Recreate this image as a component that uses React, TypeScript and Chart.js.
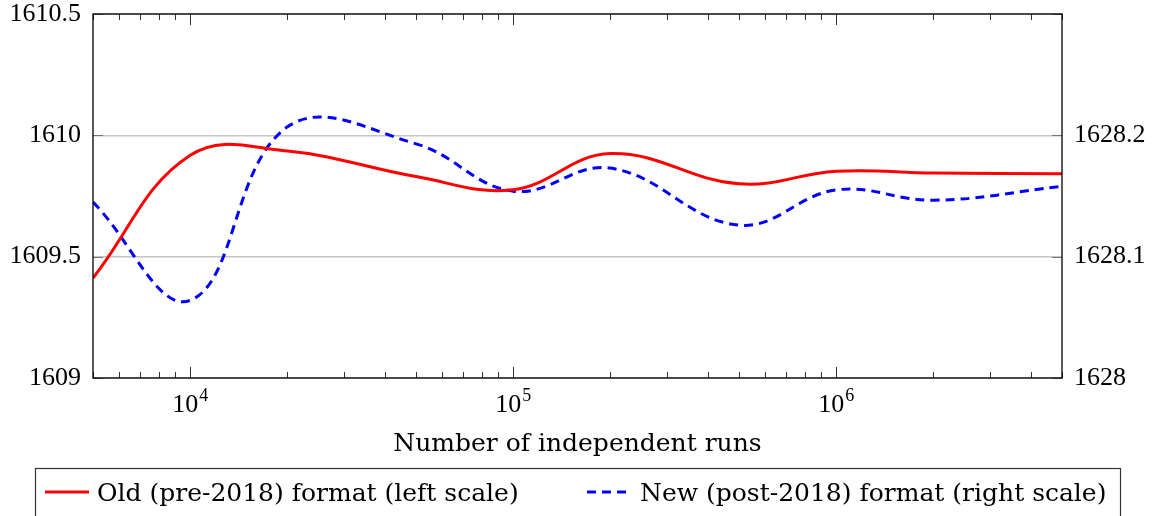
import React, { useEffect, useRef } from "react";
import { Chart, registerables } from "chart.js";

Chart.register(...registerables);

// ---- data ----
const runs: number[] = [5000, 10000, 20000, 50000, 100000, 200000, 500000, 1000000, 2000000, 5000000];
const oldFormat: number[] = [1609.412, 1609.918, 1609.935, 1609.83, 1609.776, 1609.925, 1609.8, 1609.852, 1609.845, 1609.842];
const newFormat: number[] = [1628.145, 1628.064, 1628.207, 1628.193, 1628.154, 1628.173, 1628.126, 1628.155, 1628.1465, 1628.158];
const xMajorTicks: number[] = [10000, 100000, 1000000];
const xMajorExponents: string[] = ["4", "5", "6"];
const leftTicks: number[] = [1609, 1609.5, 1610, 1610.5];
const rightTicks: number[] = [1628, 1628.1, 1628.2];
const oldLabel = "Old (pre-2018) format (left scale)";
const newLabel = "New (post-2018) format (right scale)";
const xTitle = "Number of independent runs";

const W = 1155;
const H = 516;
const NUM_FONT = '"Liberation Serif", serif';
const TXT_FONT = '"DejaVu Serif", serif';

const overlay = {
  id: "overlay",
  afterDraw(chart: any) {
    const ctx = chart.ctx as CanvasRenderingContext2D;
    const a = chart.chartArea;
    const xs = chart.scales.x;
    const yl = chart.scales.yL;
    ctx.save();

    // x ticks (inside, bottom and top)
    ctx.strokeStyle = "#333";
    ctx.lineWidth = 1;
    for (let d = 3; d <= 6; d++) {
      for (let k = 1; k <= 9; k++) {
        const v = k * Math.pow(10, d);
        if (v < xs.min || v > xs.max) continue;
        const px = Math.round(xs.getPixelForValue(v)) + 0.5;
        const len = k === 1 ? 11 : 6;
        ctx.beginPath();
        ctx.moveTo(px, a.bottom);
        ctx.lineTo(px, a.bottom - len);
        ctx.moveTo(px, a.top);
        ctx.lineTo(px, a.top + len);
        ctx.stroke();
      }
    }
    // y ticks (inside, left and right)
    ctx.strokeStyle = "#777";
    leftTicks.forEach((v) => {
      const py = Math.round(yl.getPixelForValue(v)) + 0.5;
      ctx.beginPath();
      ctx.moveTo(a.left, py);
      ctx.lineTo(a.left + 10, py);
      ctx.moveTo(a.right, py);
      ctx.lineTo(a.right - 10, py);
      ctx.stroke();
    });

    // frame
    ctx.strokeStyle = "#000";
    ctx.lineWidth = 1.3;
    ctx.strokeRect(a.left, a.top, a.right - a.left, a.bottom - a.top);

    // x tick labels 10^n
    ctx.fillStyle = "#000";
    ctx.textBaseline = "alphabetic";
    ctx.textAlign = "left";
    xMajorTicks.forEach((v, i) => {
      const px = xs.getPixelForValue(v);
      ctx.font = `26px ${NUM_FONT}`;
      const wb = ctx.measureText("10").width;
      ctx.font = `18px ${NUM_FONT}`;
      const we = ctx.measureText(xMajorExponents[i]).width;
      const x0 = px - (wb + we + 1) / 2;
      ctx.font = `26px ${NUM_FONT}`;
      ctx.fillText("10", x0, 412);
      ctx.font = `18px ${NUM_FONT}`;
      ctx.fillText(xMajorExponents[i], x0 + wb + 1, 401);
    });

    // x title
    ctx.font = `25px ${TXT_FONT}`;
    ctx.textAlign = "center";
    ctx.fillText(xTitle, (a.left + a.right) / 2, 451);

    // legend box
    ctx.strokeStyle = "#333";
    ctx.lineWidth = 1.2;
    ctx.strokeRect(35.5, 468.5, 1085, 80);
    ctx.lineWidth = 3;
    ctx.strokeStyle = "#ff0000";
    ctx.beginPath();
    ctx.moveTo(45, 492);
    ctx.lineTo(89, 492);
    ctx.stroke();
    ctx.strokeStyle = "#0000ff";
    ctx.setLineDash([9, 6]);
    ctx.beginPath();
    ctx.moveTo(587, 492);
    ctx.lineTo(628, 492);
    ctx.stroke();
    ctx.setLineDash([]);
    ctx.textAlign = "left";
    ctx.font = `25px ${TXT_FONT}`;
    ctx.fillStyle = "#000";
    ctx.fillText(oldLabel, 97, 501);
    ctx.fillText(newLabel, 640, 501);

    ctx.restore();
  },
};

const fixY = (width: number) => (s: any) => {
  s.width = width;
  s.paddingTop = 0;
  s.paddingBottom = 0;
};

export default function App() {
  const ref = useRef<HTMLCanvasElement | null>(null);
  useEffect(() => {
    if (!ref.current) return;
    const chart = new Chart(ref.current, {
      type: "line",
      data: {
        datasets: [
          {
            label: oldLabel,
            data: runs.map((x, i) => ({ x, y: oldFormat[i] })),
            borderColor: "#ff0000",
            borderWidth: 3,
            pointRadius: 0,
            tension: 0.4,
            fill: false,
            yAxisID: "yL",
          },
          {
            label: newLabel,
            data: runs.map((x, i) => ({ x, y: newFormat[i] })),
            borderColor: "#0000ff",
            borderWidth: 3,
            borderDash: [9, 6],
            pointRadius: 0,
            tension: 0.4,
            fill: false,
            yAxisID: "yR",
          },
        ],
      },
      options: {
        responsive: false,
        animation: false,
        devicePixelRatio: 1,
        layout: { padding: { top: 14, left: 0, right: 0, bottom: 0 } },
        plugins: { legend: { display: false }, tooltip: { enabled: false } },
        scales: {
          x: {
            type: "logarithmic",
            position: "bottom",
            min: 5000,
            max: 5000000,
            grid: { display: false },
            border: { display: false },
            ticks: { display: false },
            afterFit: (s: any) => {
              s.height = H - 378;
              s.paddingLeft = 0;
              s.paddingRight = 0;
            },
          },
          yL: {
            type: "linear",
            position: "left",
            min: 1609,
            max: 1610.5,
            afterBuildTicks: (s: any) => {
              s.ticks = leftTicks.map((v) => ({ value: v }));
            },
            ticks: {
              padding: 12,
              color: "#000",
              font: { family: NUM_FONT, size: 26 },
              callback: (v: any) => String(Math.round(Number(v) * 10) / 10),
            },
            grid: { color: "#c4c4c4", lineWidth: 1.5, drawTicks: false },
            border: { display: false },
            afterFit: fixY(93),
          },
          yR: {
            type: "linear",
            position: "right",
            min: 1628,
            max: 1628.3,
            afterBuildTicks: (s: any) => {
              s.ticks = rightTicks.map((v) => ({ value: v }));
            },
            ticks: {
              padding: 12,
              color: "#000",
              font: { family: NUM_FONT, size: 26 },
              callback: (v: any) => String(Math.round(Number(v) * 10) / 10),
            },
            grid: { display: false, drawTicks: false },
            border: { display: false },
            afterFit: fixY(W - 1062),
          },
        },
      },
      plugins: [overlay],
    });
    return () => chart.destroy();
  }, []);
  return (
    <div style={{ position: "fixed", left: 0, top: 0, width: W, height: H, background: "#fff" }}>
      <canvas ref={ref} width={W} height={H} style={{ display: "block", width: W, height: H }} />
    </div>
  );
}
